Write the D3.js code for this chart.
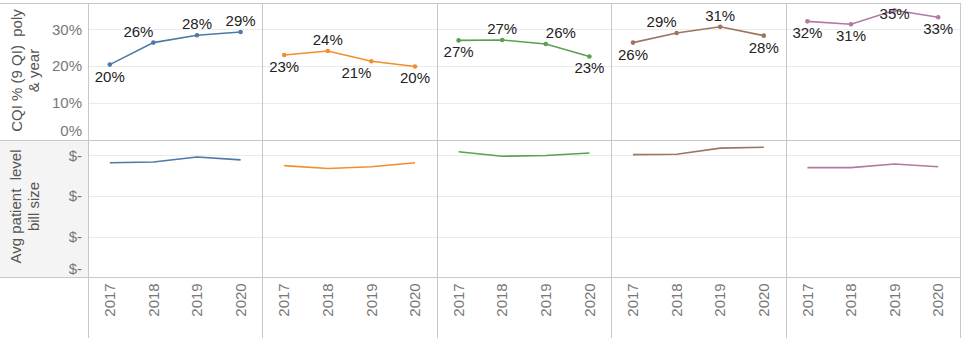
<!DOCTYPE html>
<html>
<head>
<meta charset="utf-8">
<script src="https://cdn.jsdelivr.net/npm/d3@7/dist/d3.min.js"></script>
<style>
  html, body { margin: 0; padding: 0; background: #fff; }
  svg { display: block; font-family: "Liberation Sans", Arial, sans-serif; }
</style>
</head>
<body>
<svg id="chart" width="961" height="344"></svg>
<script>
// ---------------- data ----------------
const years = ["2017", "2018", "2019", "2020"];

// CQI % (9 QI) poly & year, per panel
const cqiPanel1 = [20.4, 26.4, 28.4, 29.3];
const cqiPanel2 = [23.0, 24.1, 21.3, 19.9];
const cqiPanel3 = [27.0, 27.1, 26.0, 22.6];
const cqiPanel4 = [26.4, 29.0, 30.7, 28.3];
const cqiPanel5 = [32.2, 31.4, 35.2, 33.3];

// Avg patient level bill size, per panel
const billPanel1 = [2820, 2840, 2960, 2890];
const billPanel2 = [2750, 2680, 2720, 2820];
const billPanel3 = [3090, 2980, 3000, 3060];
const billPanel4 = [3020, 3030, 3180, 3200];
const billPanel5 = [2700, 2700, 2790, 2720];

// label placement codes for the CQI labels (T = above, B = below, L/R = diagonal)
const labelPlacePanel1 = ["B", "TL", "T", "T"];
const labelPlacePanel2 = ["B", "T", "BL", "B"];
const labelPlacePanel3 = ["B", "T", "TR", "B"];
const labelPlacePanel4 = ["B", "TL", "T", "B"];
const labelPlacePanel5 = ["B", "B", "T", "B"];

const cqiTicks = [0, 10, 20, 30];
const billTicks = [0, 1000, 2000, 3000];
const billTickLabels = ["$-", "$-", "$-", "$-"];

const panelColors = ["#4e79a7", "#f28e2b", "#59a14f", "#9c755f", "#b07aa1"];

const cqiTitle = ["CQI % (9 QI)  poly", "& year"];
const billTitle = ["Avg patient  level", "bill size"];

const cqiData = [cqiPanel1, cqiPanel2, cqiPanel3, cqiPanel4, cqiPanel5];
const billData = [billPanel1, billPanel2, billPanel3, billPanel4, billPanel5];
const labelPlaces = [labelPlacePanel1, labelPlacePanel2, labelPlacePanel3, labelPlacePanel4, labelPlacePanel5];

// ---------------- layout ----------------
const svg = d3.select("#chart");
const W = 961;
const headerW = 88;
const rightEdge = 960;
const nPanels = cqiData.length;
const panelW = (rightEdge - headerW) / nPanels;
const topY0 = 3, topY1 = 140, botY1 = 277.3, axisBottom = 338;

const x = d3.scalePoint().domain(years).range([0, panelW]).padding(0.5);
const yTop = d3.scaleLinear().domain([0, 37.2]).range([139.4, topY0]);
const yBot = d3.scaleLinear().domain([0, 3380]).range([botY1, topY1]);

const gridColor = "#ebebeb";
const borderColor = "#c8c8c8";
const tickColor = "#777";
const titleColor = "#555";

// bottom-left header shading
svg.append("rect").attr("x", 0).attr("y", topY1).attr("width", headerW).attr("height", botY1 - topY1)
  .attr("fill", "#f4f4f4");

// gridlines
const grid = svg.append("g");
cqiTicks.filter(t => t > 0).forEach(t => {
  grid.append("line").attr("x1", headerW).attr("x2", rightEdge)
    .attr("y1", Math.round(yTop(t)) + 0.5).attr("y2", Math.round(yTop(t)) + 0.5)
    .attr("stroke", gridColor).attr("stroke-width", 1);
});
billTicks.filter(t => t > 0).forEach(t => {
  grid.append("line").attr("x1", headerW).attr("x2", rightEdge)
    .attr("y1", Math.round(yBot(t)) + 0.5).attr("y2", Math.round(yBot(t)) + 0.5)
    .attr("stroke", gridColor).attr("stroke-width", 1);
});

// y axes tick labels
const yAxisTop = d3.axisLeft(yTop).tickValues(cqiTicks).tickFormat(d => d + "%").tickSize(0).tickPadding(6);
const gTop = svg.append("g").attr("transform", `translate(${headerW},0)`).call(yAxisTop);
gTop.select(".domain").remove();
gTop.selectAll("text").attr("fill", tickColor).style("font-size", "15px")
  .attr("font-family", "Liberation Sans, Arial, sans-serif")
  .attr("y", d => d === 0 ? -8.5 : 0);

const yAxisBot = d3.axisLeft(yBot).tickValues(billTicks).tickFormat((d, i) => billTickLabels[i]).tickSize(0).tickPadding(6);
const gBot = svg.append("g").attr("transform", `translate(${headerW},0)`).call(yAxisBot);
gBot.select(".domain").remove();
gBot.selectAll("text").attr("fill", tickColor).style("font-size", "15px")
  .attr("font-family", "Liberation Sans, Arial, sans-serif")
  .attr("y", d => d === 0 ? -8.5 : 0);

// y titles
function rotatedTitle(lines, cy, xs) {
  lines.forEach((ln, i) => {
    svg.append("text")
      .attr("transform", `translate(${xs[i]},${cy}) rotate(-90)`)
      .attr("text-anchor", "middle").attr("dy", "0.35em")
      .attr("fill", titleColor).style("font-size", "15px")
      .style("white-space", "pre")
      .text(ln);
  });
}
rotatedTitle(cqiTitle, 70.5, [17, 33.5]);
rotatedTitle(billTitle, 206.5, [16, 34]);

// panels
const lineTop = d3.line().x((d, i) => x(years[i])).y(d => yTop(d));
const lineBot = d3.line().x((d, i) => x(years[i])).y(d => yBot(d));

cqiData.forEach((vals, p) => {
  const left = headerW + p * panelW;
  const g = svg.append("g").attr("transform", `translate(${left},0)`);
  const col = panelColors[p];

  g.append("path").datum(vals).attr("d", lineTop)
    .attr("fill", "none").attr("stroke", col).attr("stroke-width", 1.6);
  g.selectAll("circle.pt").data(vals).enter().append("circle")
    .attr("class", "pt")
    .attr("cx", (d, i) => x(years[i])).attr("cy", d => yTop(d))
    .attr("r", 2.3).attr("fill", col);

  g.append("path").datum(billData[p]).attr("d", lineBot)
    .attr("fill", "none").attr("stroke", col).attr("stroke-width", 1.6);

  // labels
  const places = labelPlaces[p];
  const halfW = 15;
  vals.forEach((v, i) => {
    const pl = places[i];
    let cx = x(years[i]);
    let cy = yTop(v);
    cy += pl.includes("T") ? -11.5 : 11.5;
    if (pl.includes("L")) cx -= 15;
    if (pl.includes("R")) cx += 15;
    cx = Math.max(halfW + 0.5, Math.min(panelW - halfW - 0.5, cx));
    cy = Math.max(13.3, cy);
    g.append("text")
      .attr("x", cx).attr("y", cy).attr("dy", "0.36em")
      .attr("text-anchor", "middle")
      .attr("fill", "#222").style("font-size", "15px")
      .text(Math.round(v) + "%");
  });

  // year labels
  years.forEach(yr => {
    g.append("text")
      .attr("transform", `translate(${x(yr)},${botY1 + 6}) rotate(-90)`)
      .attr("text-anchor", "end").attr("dy", "0.35em")
      .attr("fill", tickColor).style("font-size", "15px")
      .text(yr);
  });
});

// borders
const borders = svg.append("g").attr("stroke", borderColor).attr("stroke-width", 1);
[topY0, topY1, botY1].forEach(yv => {
  const yy = Math.floor(yv) + 0.5;
  borders.append("line").attr("x1", 0).attr("x2", rightEdge).attr("y1", yy).attr("y2", yy);
});
for (let p = 0; p <= nPanels; p++) {
  const xx = Math.round(headerW + p * panelW) + 0.5;
  borders.append("line").attr("x1", xx).attr("x2", xx).attr("y1", topY0).attr("y2", axisBottom);
}
</script>
</body>
</html>
